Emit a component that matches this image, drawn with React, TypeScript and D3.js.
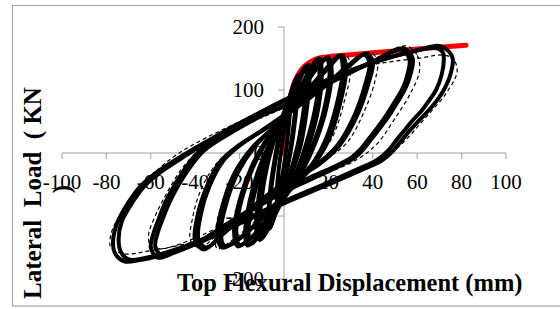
import React from "react";
import * as d3 from "d3";

type P = [number, number];

const xTicks = [-100, -80, -60, -40, -20, 0, 20, 40, 60, 80, 100];
const yTicks = [-200, -100, 0, 100, 200];
const xTitle = "Top Flexural Displacement (mm)";
const yTitle = "Lateral  Load  ( KN";

// red envelope (monotonic)
const envelope: P[] = [[0, 0], [1, 30], [2.5, 80], [4, 105], [6, 122], [8, 133], [10, 140], [13, 147], [16, 151], [20, 153], [30, 156], [40, 159], [50, 162], [60, 165], [70, 168], [82, 171]];

// experimental cycles (thick solid)
const loop3: P[] = [[3, 85], [2.6, 60], [1.5, 20], [0, -20], [-1.5, -50], [-3, -80], [-3.3, -65], [-2.5, -30], [-1, 10], [0.5, 45], [2, 75]];
const loop6a: P[] = [[6, 120], [5.8, 95], [4.5, 50], [2.5, 0], [0, -45], [-3, -85], [-6, -115], [-6.6, -95], [-5.5, -50], [-3.5, -5], [-1, 40], [2, 80], [4.5, 110]];
const loop6b: P[] = [[6.5, 124], [6.3, 98], [5, 52], [3, 2], [0, -48], [-3.5, -90], [-6.5, -120], [-7, -98], [-6, -52], [-4, -6], [-1.5, 40], [2, 84], [5, 114]];
const loop10a: P[] = [[10, 138], [10.3, 115], [8.5, 60], [6, 10], [2, -40], [-3, -85], [-7, -118], [-10, -135], [-11, -120], [-10, -70], [-7.5, -20], [-4, 25], [0, 65], [4, 100], [7.5, 125]];
const loop10b: P[] = [[11, 140], [11.5, 118], [10, 62], [7.5, 12], [3, -38], [-2, -82], [-7, -120], [-11, -138], [-12.5, -122], [-11.5, -72], [-9, -22], [-5, 22], [0, 60], [5, 100], [8.5, 127]];
const loop15a: P[] = [[15, 148], [16, 125], [14, 70], [10, 15], [5, -35], [0, -70], [-6, -105], [-11, -130], [-15, -145], [-16, -125], [-14, -75], [-10, -25], [-5, 20], [0, 55], [6, 95], [11, 128]];
const loop15b: P[] = [[16, 150], [17, 128], [15.5, 72], [11.5, 16], [6, -34], [0, -72], [-6, -108], [-12, -133], [-16.5, -147], [-17.5, -127], [-15.5, -77], [-11.5, -27], [-6, 18], [0, 52], [7, 95], [12, 130]];
const loop20a: P[] = [[20, 152], [21.5, 130], [19, 70], [14, 15], [8, -30], [0, -72], [-8, -108], [-15, -135], [-21, -148], [-22.5, -125], [-20, -75], [-15, -25], [-9, 15], [0, 58], [8, 100], [15, 135]];
const loop20b: P[] = [[19, 150], [20.5, 128], [18, 68], [13, 13], [7, -32], [0, -70], [-8, -106], [-14, -132], [-20, -146], [-21.5, -123], [-19, -73], [-14, -23], [-8, 17], [0, 60], [8, 102], [14, 133]];
const loop27a: P[] = [[26, 155], [28, 135], [25, 75], [20, 20], [12, -25], [0, -68], [-10, -105], [-20, -135], [-28, -150], [-30, -128], [-27, -75], [-22, -30], [-14, 10], [0, 55], [10, 95], [20, 135]];
const loop27b: P[] = [[25, 154], [26.5, 134], [23.5, 74], [18.5, 19], [11, -26], [0, -66], [-10, -103], [-19, -133], [-26.5, -148], [-28.5, -126], [-25.5, -74], [-20.5, -29], [-13, 11], [0, 57], [10, 97], [19, 134]];
const loop39a: P[] = [[37, 158], [40, 145], [38, 110], [33, 60], [25, 12], [15, -20], [0, -50], [-15, -90], [-28, -130], [-36, -153], [-40, -140], [-39, -100], [-35, -55], [-29, -15], [-22, 8], [-10, 35], [0, 58], [20, 110], [30, 140]];
const loop39b: P[] = [[36, 156], [38.5, 143], [36.5, 108], [31.5, 58], [24, 12], [14, -20], [0, -48], [-15, -88], [-27, -127], [-35, -150], [-38.5, -137], [-37.5, -98], [-33.5, -52], [-27.5, -13], [-21, 9], [-10, 36], [0, 60], [20, 112], [30, 142]];
const loop57a: P[] = [[54, 166], [58, 150], [57, 125], [55, 105], [51, 80], [48, 63], [44, 43], [40, 25], [36, 7], [32, -7], [24, -22], [12, -42], [0, -62], [-20, -102], [-40, -144], [-50, -159], [-57, -166], [-60, -150], [-59, -130], [-57, -110], [-53, -75], [-45, -27], [-38, 3], [-25, 33], [-10, 60], [0, 74], [20, 110], [40, 145]];
const loop57b: P[] = [[53, 164], [56.5, 148], [55.5, 123], [53.5, 103], [49.5, 79], [46.5, 62], [42.5, 42], [38.5, 24], [34.5, 6], [30.5, -7], [23, -21], [11, -40], [0, -60], [-20, -100], [-39, -142], [-49, -157], [-55, -163], [-58, -148], [-57, -128], [-55, -108], [-51, -74], [-43, -26], [-36, 4], [-23, 34], [-9, 61], [0, 75], [20, 111], [40, 145]];
const loop74a: P[] = [[70, 170], [74, 162], [76, 150], [75, 125], [72, 100], [69, 84], [65, 67], [61, 52], [57, 37], [53, 20], [49, 3], [44, -12], [35, -27], [20, -50], [0, -80], [-20, -112], [-40, -145], [-55, -162], [-65, -170], [-72, -172], [-76, -160], [-77, -140], [-75, -110], [-70, -78], [-65, -54], [-60, -38], [-55, -25], [-48, -9], [-40, 8], [-32, 24], [-24, 40], [-12, 62], [0, 82], [20, 115], [40, 143], [60, 163]];
const loop74b: P[] = [[68, 167], [71.5, 160], [72, 148], [71, 124], [68.5, 100], [65.5, 84], [62, 67], [58, 52], [54.5, 37], [50.5, 20], [47, 4], [42, -11], [33, -26], [19, -48], [0, -77], [-20, -109], [-40, -142], [-54, -159], [-63, -167], [-70, -169], [-73.5, -157], [-74.5, -137], [-73, -108], [-68, -77], [-63, -53], [-58, -37], [-53, -24], [-46, -8], [-38, 10], [-30, 26], [-22, 42], [-11, 64], [0, 84], [20, 117], [40, 144], [58, 161]];

// analytical cycles (thin dashed)
const dash27: P[] = [[27, 157], [30, 140], [27, 80], [21, 20], [10, -25], [0, -65], [-12, -105], [-24, -140], [-30, -152], [-31, -130], [-28, -80], [-22, -30], [-12, 12], [0, 55], [14, 110]];
const dash39: P[] = [[38, 160], [42, 148], [41, 115], [36, 65], [28, 15], [15, -18], [0, -48], [-15, -88], [-30, -130], [-38, -150], [-42, -140], [-41, -100], [-37, -55], [-30, -15], [-20, 15], [0, 58], [20, 112]];
const dash57: P[] = [[55, 170], [60, 155], [61, 130], [57, 95], [50, 55], [42, 15], [33, -10], [15, -38], [0, -60], [-20, -100], [-40, -135], [-55, -152], [-60, -148], [-61, -130], [-58, -100], [-53, -65], [-46, -25], [-38, 5], [-20, 40], [0, 72], [20, 110], [40, 148]];
const dash74: P[] = [[73, 155], [77, 145], [78, 130], [77, 118], [74, 100], [71, 85], [66, 65], [61, 45], [56, 25], [50, 5], [40, -18], [20, -50], [0, -80], [-20, -112], [-40, -140], [-60, -155], [-72, -160], [-78, -150], [-78, -130], [-75, -105], [-70, -80], [-62, -45], [-52, -12], [-40, 15], [-20, 50], [0, 85], [20, 118], [40, 140], [60, 150]];

const solidLoops = [loop3, loop6a, loop6b, loop10a, loop10b, loop15a, loop15b, loop20a, loop20b, loop27a, loop27b, loop39a, loop39b, loop57a, loop57b, loop74a, loop74b];
const dashedLoops = [dash27, dash39, dash57, dash74];

const W = 560;
const H = 309;
const serif = '"Liberation Serif", "Times New Roman", serif';

export default function App() {
  const x = d3.scaleLinear().domain([-100, 100]).range([62, 506]);
  const y = d3.scaleLinear().domain([-200, 200]).range([279, 27]);
  const loopLine = d3.line<P>().x((d) => x(d[0])).y((d) => y(d[1])).curve(d3.curveCatmullRomClosed.alpha(0.5));
  const openLine = d3.line<P>().x((d) => x(d[0])).y((d) => y(d[1])).curve(d3.curveMonotoneX);
  const axisColor = "#a0a0a0";

  return (
    <svg width={W} height={H} style={{ position: "absolute", left: 0, top: 0, display: "block" }} xmlns="http://www.w3.org/2000/svg">
      <rect x={0} y={0} width={W} height={H} fill="#fff" />
      <rect x={12.5} y={5.5} width={W} height={300.5} fill="none" stroke="#a6a6a6" strokeWidth={1.2} />
      {/* axes */}
      <line x1={x(-100)} x2={x(100)} y1={y(0)} y2={y(0)} stroke={axisColor} strokeWidth={1} />
      <line x1={x(0)} x2={x(0)} y1={y(200)} y2={y(-200)} stroke={axisColor} strokeWidth={1} />
      {xTicks.map((t) => (
        <line key={"xt" + t} x1={x(t)} x2={x(t)} y1={y(0)} y2={y(0) + 6} stroke={axisColor} strokeWidth={1} />
      ))}
      {yTicks.map((t) => (
        <line key={"yt" + t} x1={x(0) - 6} x2={x(0)} y1={y(t)} y2={y(t)} stroke={axisColor} strokeWidth={1} />
      ))}
      {xTicks.map((t) => (
        <text key={"xl" + t} x={x(t)} y={y(0) + 36} textAnchor="middle" fontFamily={serif} fontSize={21} fill="#000">
          {t}
        </text>
      ))}
      {yTicks.map((t) => (
        <text key={"yl" + t} x={264} y={y(t) + 7} textAnchor="end" fontFamily={serif} fontSize={21} fill="#000">
          {t}
        </text>
      ))}
      {/* data */}
      <path d={openLine(envelope) || ""} fill="none" stroke="#ff0000" strokeWidth={5} strokeLinecap="round" strokeLinejoin="round" />
      {dashedLoops.map((l, i) => (
        <path key={"d" + i} d={loopLine(l) || ""} fill="none" stroke="#000" strokeWidth={1.2} strokeDasharray="4,3" />
      ))}
      {solidLoops.map((l, i) => (
        <path key={"s" + i} d={loopLine(l) || ""} fill="none" stroke="#000" strokeWidth={4} strokeLinejoin="round" />
      ))}
      {/* titles */}
      <text x={177} y={291} fontFamily={serif} fontSize={24.5} fontWeight="bold" fill="#000">
        {xTitle}
      </text>
      <text transform="translate(41,193) rotate(-90)" textAnchor="middle" fontFamily={serif} fontSize={25} fontWeight="bold" fill="#000" style={{ whiteSpace: "pre" }}>
        {yTitle}
      </text>
      <text transform="translate(70,189) rotate(-90)" textAnchor="middle" fontFamily={serif} fontSize={25} fontWeight="bold" fill="#000">
        )
      </text>
    </svg>
  );
}
